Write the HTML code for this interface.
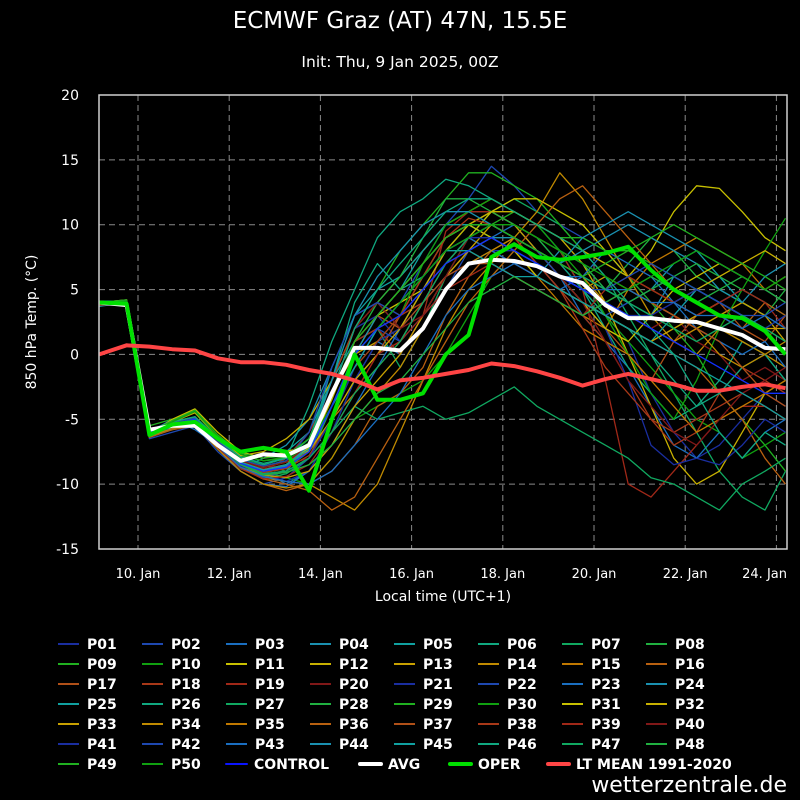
<!DOCTYPE html>
<html><head><meta charset="utf-8"><style>
html,body{margin:0;padding:0;background:#000;}
svg{display:block;font-family:"DejaVu Sans","Liberation Sans",sans-serif;}
</style></head><body>
<svg id="chart" width="800" height="800" viewBox="0 0 800 800" xmlns="http://www.w3.org/2000/svg">
<rect width="800" height="800" fill="#000"/>
<text x="400" y="28" fill="#fff" font-size="23" text-anchor="middle">ECMWF Graz (AT) 47N, 15.5E</text>
<text x="400" y="67" fill="#fff" font-size="15.5" text-anchor="middle">Init: Thu, 9 Jan 2025, 00Z</text>
<text transform="translate(36,322) rotate(-90)" fill="#fff" font-size="14" text-anchor="middle">850 hPa Temp. (°C)</text>
<text x="443" y="601" fill="#fff" font-size="14" text-anchor="middle">Local time (UTC+1)</text>
<text x="787" y="792" fill="#fff" font-size="22" text-anchor="end">wetterzentrale.de</text>
<g id="grid"></g>
<g id="series"></g>
<g id="axes"></g>
<g id="legend"></g>
</svg>
<script>
const times=[9.15,9.75,10.25,10.75,11.25,11.75,12.25,12.75,13.25,13.75,14.25,14.75,15.25,15.75,16.25,16.75,17.25,17.75,18.25,18.75,19.25,19.75,20.25,20.75,21.25,21.75,22.25,22.75,23.25,23.75,24.2];
const yTicks=[-15,-10,-5,0,5,10,15,20];
const xTickDays=[10,12,14,16,18,20,22,24];
const xTickLabels=["10. Jan","12. Jan","14. Jan","16. Jan","18. Jan","20. Jan","22. Jan","24. Jan"];
const avgValues=[4,3.8,-5.8,-5.5,-5.5,-7,-8.2,-7.7,-7.8,-7,-3,0.5,0.5,0.3,2,5,7,7.3,7.2,6.8,6,5.5,3.8,2.8,2.8,2.6,2.5,2,1.5,0.5,0.4];
const operValues=[4,3.9,-6.2,-5.4,-5.2,-6.5,-7.5,-7.2,-7.5,-10.5,-5,0,-3.5,-3.5,-3,0,1.5,7.5,8.5,7.5,7.3,7.5,7.8,8.3,6.5,5,4,3,2.8,1.8,0];
const ltMeanValues=[0,0.7,0.6,0.4,0.3,-0.3,-0.6,-0.6,-0.8,-1.2,-1.5,-2,-2.7,-2,-1.8,-1.5,-1.2,-0.7,-0.9,-1.3,-1.8,-2.4,-1.9,-1.5,-1.9,-2.3,-2.8,-2.8,-2.5,-2.3,-2.6];
const controlValues=[4,4,-6,-5.4,-5,-6.9,-8.4,-9,-8.7,-7.5,-4,0,2,3,5,7,8,9,8,7,6,5,4,3,2,1,0,-1,-2,-3,-3];
const members=[
[3.8,4,-6,-5.5,-5,-7,-8.5,-9,-8,-6,-2,2,3,1,4,7,9,10,9,8,7,5,3,1,-3,-6,-8,-7,-5,-3,-4],
[3.9,3.8,-6.5,-6,-5.5,-7.5,-9,-10,-9.5,-8,-4,0,2,4,7,10,12,14.5,13,11,10,9,8,6,4,3,5,6,4,3,2],
[4,4.1,-6,-5,-5.8,-7,-8,-9,-10,-9,-6,-2,1,0,3,6,8,9,10,8,6,3,1,-1,-4,-7,-8,-6,-8,-6,-5],
[3.7,4,-6.2,-5.5,-5,-7.2,-8.8,-8,-7,-5,-1,3,4,2,5,8,9,8,7,6,8,7,5,4,3,6,5,4,3,2,3],
[4.1,3.9,-5.8,-5.2,-4.8,-6.5,-7.5,-8,-7.5,-6,-2,1,3,5,8,10,11,11,10,9,7,6,5,4,5,7,8,6,4,3,2],
[4,4.2,-6,-5.5,-5,-6.8,-8,-9,-8,-4,1,5,9,11,12,13.5,13,12,11,10,8,5,2,-1,-3,-5,-4,-2,1,0,-2],
[3.8,4,-6.3,-5.8,-5.2,-7,-8.5,-9.5,-9,-7,-3,1,2,-1,2,6,9,11,12,11,10,8,6,3,0,-3,-6,-9,-11,-12,-9],
[4,3.9,-6,-5.5,-5.3,-7,-8.2,-8.5,-9,-8,-4,-1,2,4,6,9,10,11,10,9,7,6,5,7,9,8,6,5,4,3,5],
[4.1,4,-5.5,-5,-4.5,-6.5,-7.8,-8.2,-8,-7,-3,2,5,8,10,12,14,14,13,12,10,8,7,6,4,2,0,-3,-5,-7,-9],
[3.9,4,-6,-5.5,-5,-6.8,-8,-9,-9.5,-10,-8,-5,-4,-3,-2,0,3,6,8,7,6,5,3,1,-1,-3,-5,-6,-8,-7,-6],
[4,4.2,-6.2,-5,-4.2,-6,-7.5,-8,-7.5,-7,-4,0,3,4,5,7,9,11,12,12,11,10,8,6,8,11,13,12.8,11,9,8],
[4,4.1,-6,-5.2,-4.5,-6.3,-7.8,-7.5,-6.5,-5,-2,2,4,6,8,10,11,12,11,10,9,7,4,0,-4,-8,-10,-9,-6,-3,-2],
[3.9,4,-6.3,-5.5,-5,-6.8,-8.5,-9,-8.5,-7,-3,0,1,2,5,8,10,11,10,8,6,5,6,5,4,3,2,3,4,3,1],
[4,3.9,-6,-5.4,-5.2,-7,-8.8,-9.5,-9.8,-10,-11,-12,-10,-6,-2,2,5,7,9,11,14,12,9,6,3,1,0,2,1,0,-1],
[3.8,4,-6.1,-5.6,-5,-6.9,-8.3,-9,-8.5,-7.5,-5,-3,-1,1,4,6,8,9,8,6,4,3,2,5,7,8,9,8,7,5,4],
[4,4,-6.4,-5.8,-5.5,-7.3,-9,-10,-10.5,-10,-9,-7,-4,-3,-1,3,6,8,9,7,5,4,3,2,1,0,-1,-3,-5,-8,-10],
[3.9,4.2,-6,-5.3,-5,-6.9,-8.4,-9.2,-9,-8,-5,-2,0,3,6,9,10,10,9,8,6,4,2,0,-2,1,3,4,2,1,3],
[4,4,-6.2,-5.5,-5.2,-7,-8.6,-9.4,-9,-7,-2,2,4,3,4,7,9,8,7,6,5,3,1,-2,-5,-7,-6,-3,-1,-2,-3],
[3.9,3.9,-6,-5.4,-5.1,-7.1,-8.7,-9,-8,-6,-3,1,2,0,3,9.5,11,11,10,9,8,5,-2,-10,-11,-9,-7,-5,-4,-4,-5],
[4,4.1,-6.1,-5.5,-5,-6.8,-8.2,-8.8,-8.5,-8,-6,-3,0,2,5,8,9,10,9,7,6,5,4,3,2,3,1,0,-2,-1,-2],
[4,4,-6,-5.5,-5.2,-7,-8.5,-9.2,-9.8,-9,-6,-2,1,2,4,6,7,8,8,7,6,4,2,-2,-7,-8.5,-8,-8.5,-7,-5,-6],
[3.8,4,-6.2,-5.6,-5.3,-7.2,-8.8,-9.5,-9,-8,-5,-1,2,1,3,5,8,9,8,7,5,4,3,4,5,6,5,4,5,4,3],
[4,3.9,-6.3,-5.7,-5.4,-7.3,-9,-10,-10.2,-9,-7,-4,-1,2,5,8,9,8,7,6,5,6,8,7,6,4,2,1,0,1,-1],
[3.9,4.1,-6,-5.4,-5,-6.9,-8.4,-9,-8.8,-7.5,-4,0,3,5,7,9,10,9,9,8,7,8,9,10,9,8,7,5,4,6,7],
[4,4,-6.1,-5.5,-5.1,-7,-8.5,-9.3,-9,-7,-1,3,5,6,8,10,10,9,8,7,6,4,3,2,1,3,5,4,3,2,1],
[4.1,4,-5.9,-5.3,-4.9,-6.7,-8,-8.5,-8,-6.5,-2,4,7,5,6,8,10,10,9,8,7,5,3,2,0,-2,-4,-3,-1,0,-2],
[3.8,3.9,-6.2,-5.6,-5.2,-7.1,-8.7,-9.6,-9.2,-8,-6,-4,-5,-4.5,-4,-5,-4.5,-3.5,-2.5,-4,-5,-6,-7,-8,-9.5,-10,-11,-12,-10,-9,-8],
[4,4.1,-6,-5.4,-5,-6.9,-8.3,-9,-8.5,-7,-3,1,4,6,9,12,12,11,10,9,8,7,5,4,5,6,7,6,5,4,3],
[3.9,4,-6.1,-5.5,-5.1,-7,-8.5,-9.1,-8.8,-7.5,-4,0,2,4,6,8,9,10,11,10,9,9,8,8,7,6,5,4,3,2,1],
[4,4,-6,-5.3,-4.8,-6.6,-8,-8.6,-8.2,-7,-4,-1,1,3,7,10,11,12,11,10,8,6,3,0,-3,-5,-2,2,5,8,10.5],
[4,4.1,-6.2,-5.4,-5,-6.8,-8.3,-8.9,-8.5,-7.2,-3.5,1,3,5,7,9,10,9,8,6,5,4,2,1,3,5,6,7,6,5,6],
[3.9,4,-6,-5.3,-4.9,-6.7,-8.1,-8.7,-8.3,-7.4,-5,-2,0,2,5,8,10,11,11,10,9,8,7,6,5,4,5,6,7,8,7],
[4,3.9,-6.1,-5.5,-5.1,-7,-8.6,-9.3,-9.5,-9,-7,-4,-2,0,3,6,8,10,9,8,6,4,3,2,1,2,3,4,3,2,2],
[3.8,4,-6.3,-5.7,-5.4,-7.3,-9,-10,-10.3,-10,-8,-5,-3,-1,2,5,7,8,9,8,7,6,4,3,2,1,2,0,-1,0,1],
[4,4.1,-6,-5.4,-5,-6.9,-8.4,-9,-8.7,-7.5,-4,0,2,3,5,7,8,7,6,5,4,2,1,0,-2,-4,-6,-5,-4,-3,-2],
[4,4,-6.2,-5.6,-5.2,-7.1,-8.7,-9.6,-10,-10.5,-12,-11,-8,-5,-2,1,4,6,8,10,12,13,11,9,7,5,4,3,2,4,3],
[3.9,4,-6,-5.5,-5.1,-7,-8.5,-9,-8.5,-7,-3,1,3,2,4,6,7,7,6,5,4,3,4,5,4,3,2,1,-1,-3,-4],
[4,4.1,-6.1,-5.4,-5,-6.9,-8.4,-9.1,-8.8,-7.8,-5,-1,1,3,6,9,10.5,10,9,7,5,2,-1,-3,-5,-6,-5,-4,-3,-4,-5],
[3.8,3.9,-6.2,-5.6,-5.3,-7.2,-8.8,-9.6,-9.4,-8.5,-6,-3,0,1,3,5,6,7,6,5,4,3,5,6,5,4,3,4,5,4,2],
[4,4,-6,-5.4,-5,-6.8,-8.2,-8.7,-8.3,-7,-3,2,4,2,3,6,9,10,9,8,6,4,1,-2,-4,-6,-7,-5,-3,-2,-1],
[4,4.1,-6.1,-5.5,-5.2,-7,-8.6,-9.2,-9,-8,-5,-1,2,4,6,8,9,9,8,7,6,5,4,3,3,4,5,4,3,2,3],
[3.9,4,-6,-5.3,-4.9,-6.7,-8.1,-8.6,-8.2,-6,-1,3,4,3,5,7,9,10,9,8,6,5,5,6,7,6,5,4,3,3,4],
[4,4,-6.2,-5.6,-5.2,-7.1,-8.7,-9.4,-9.8,-10,-9,-7,-5,-3,0,3,5,6,7,7,6,6,5,5,4,4,3,3,2,3,2],
[3.9,4,-6,-5.4,-5,-6.9,-8.4,-9,-8.6,-7,-2,3,6,8,10,11,11,10,9,8,7,9,10,11,10,9,8,7,6,5,4],
[4,4,-6.1,-5.5,-5,-6.9,-8.3,-8.9,-8.5,-7.3,-4,-1,2,4,6,8,8,7,6,6,5,4,3,2,1,0,-1,-2,-3,-4,-5],
[4.1,4.1,-5.9,-5.2,-4.8,-6.6,-7.9,-8.4,-8,-6.5,-3,2,5,7,9,11,12,12,11,10,9,8,6,4,2,0,-3,-6,-8,-6,-7],
[3.9,4,-6,-5.4,-5,-6.9,-8.4,-9.2,-9,-8,-6,-3,-1,1,4,7,9,10,9,8,7,6,5,4,3,2,1,2,3,2,1],
[4,4,-6.1,-5.5,-5.1,-7,-8.5,-9.3,-9.1,-8.5,-7,-5,-3,-2,0,2,4,5,6,5,4,3,4,5,6,5,4,5,6,5,4],
[4,4.2,-6,-5.1,-4.3,-6.2,-7.6,-8,-7.8,-6.5,-3,1,3,5,7,9,10,10,9,8,7,6,7,8,9,10,9,8,7,6,5],
[3.9,4.1,-6.1,-5.2,-4.4,-6.3,-7.7,-8.2,-7.9,-6.8,-4,0,2,4,6,8,9,10,10,9,8,7,6,5,6,7,8,7,6,5,6]
];
const palette=["#1a2ea0","#1e48b0","#1a6ec0","#1a90b0","#10a0a0","#10a880","#10a860","#20b040","#20b020","#10a010","#c8c000","#c8b000","#c8a000","#c08a00","#c07800","#b86010","#b05018","#a83818","#a02818","#801818"];

const NS="http://www.w3.org/2000/svg";
const X0=99,X1=787,Y0=95,Y1=549;
function xs(t){return 138+(t-10)*45.6;}
function ys(v){return Y0+(20-v)*(Y1-Y0)/35;}
function mk(tag,attrs,parent){const e=document.createElementNS(NS,tag);for(const k in attrs)e.setAttribute(k,attrs[k]);parent.appendChild(e);return e;}
const grid=document.getElementById('grid'),series=document.getElementById('series'),axes=document.getElementById('axes'),legend=document.getElementById('legend');

yTicks.forEach(v=>{
  const y=ys(v);
  if(v>-15&&v<20){const l=mk('line',{x1:X0,x2:X1,y1:y,y2:y,stroke:'#8a8a8a','stroke-width':1,'stroke-dasharray':'6,4'},grid);
  
  }
  const t=mk('text',{x:79,y:y+5,fill:'#fff','font-size':14,'text-anchor':'end'},axes);t.textContent=v;
  
  
});
xTickDays.forEach((d,i)=>{
  const x=xs(d);
  const l=mk('line',{x1:x,x2:x,y1:Y0,y2:Y1,stroke:'#8a8a8a','stroke-width':1,'stroke-dasharray':'6,4'},grid);
  
  
  const last=i===xTickDays.length-1;
  const t=mk('text',{x:last?787:x,y:578,fill:'#fff','font-size':13,'text-anchor':last?'end':'middle'},axes);t.textContent=xTickLabels[i];
  
  
});
const frame=mk('rect',{x:X0,y:Y0,width:X1-X0,height:Y1-Y0,fill:'none',stroke:'#cfcfcf','stroke-width':1.5},axes);



function pts(vals){return vals.map((v,i)=>xs(times[i]).toFixed(1)+','+ys(v).toFixed(1)).join(' ');}
members.forEach((m,i)=>{
  const p=mk('polyline',{points:pts(m),fill:'none',stroke:palette[i%20],'stroke-width':1.3,'stroke-linejoin':'round'},series);
  
  
});
const cl=mk('polyline',{points:pts(controlValues),fill:'none',stroke:'#1030ff','stroke-width':1.3},series);


const al=mk('polyline',{points:pts(avgValues),fill:'none',stroke:'#fff','stroke-width':4,'stroke-linejoin':'round'},series);


const ol=mk('polyline',{points:pts(operValues),fill:'none',stroke:'#00e000','stroke-width':4,'stroke-linejoin':'round'},series);


const ll=mk('polyline',{points:pts(ltMeanValues),fill:'none',stroke:'#ff4545','stroke-width':4,'stroke-linejoin':'round'},series);



for(let i=0;i<50;i++){
  const col=i%8,row=Math.floor(i/8);
  const x=58+col*84,y=644+row*20;
  const g=mk('g',{},legend);
  
  
  mk('line',{x1:x,x2:x+21,y1:y,y2:y,stroke:palette[i%20],'stroke-width':2},g);
  const t=mk('text',{x:x+29,y:y+5,fill:'#fff','font-size':14,'font-weight':'bold'},g);t.textContent='P'+String(i+1).padStart(2,'0');
}
const extra=[["CONTROL","#0a14ff",226,2,'legend-entry-control'],["AVG","#fff",360,4,'legend-entry-avg'],["OPER","#00e000",450,4,'legend-entry-oper'],["LT MEAN 1991-2020","#ff4545",548,4,'legend-entry-lt-mean']];
extra.forEach(e=>{
  const y=764;
  const g=mk('g',{},legend);
  
  
  mk('line',{x1:e[2],x2:e[2]+21,y1:y,y2:y,stroke:e[1],'stroke-width':e[3],'stroke-linecap':'round'},g);
  const t=mk('text',{x:e[2]+28,y:y+5,fill:'#fff','font-size':14,'font-weight':'bold'},g);t.textContent=e[0];
});
</script>
</body></html>
